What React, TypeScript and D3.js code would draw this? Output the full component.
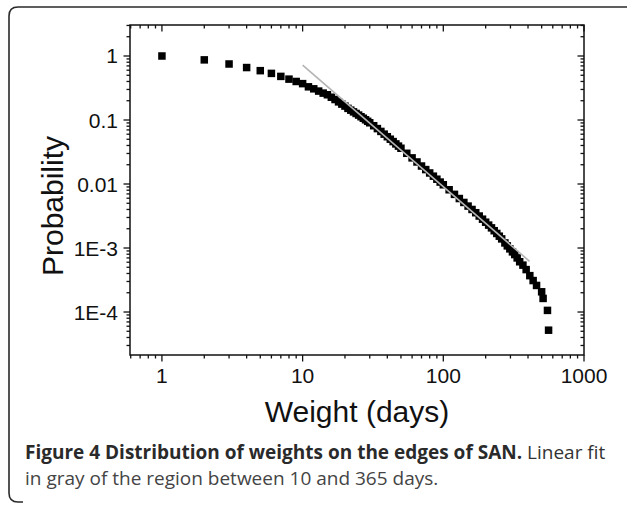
import React from "react";
import * as d3 from "d3";

// Weight (days) and the complementary cumulative probability
const weights = [
  1, 2, 3, 4, 5, 6, 7, 8, 9, 10, 11, 12, 13, 14, 15, 16, 17, 18, 19, 20,
  21, 22, 23, 24, 25, 26, 27, 28, 29, 30, 32, 34, 36, 38, 40, 42, 44, 46, 48, 50,
  55, 60, 65, 70, 75, 80, 85, 90, 95, 100, 110, 120, 130, 140, 150, 160, 170, 180, 190, 200,
  210, 220, 230, 240, 250, 260, 274, 285, 297, 310, 322, 335, 349, 368, 388, 412,
  435, 460, 500, 512, 550, 560,
];
const probabilities = [
  1.0, 0.87, 0.75, 0.66, 0.59, 0.535, 0.48, 0.435, 0.4, 0.37, 0.33, 0.307, 0.283, 0.263, 0.248, 0.227, 0.209, 0.192, 0.177, 0.165,
  0.152, 0.1425, 0.134, 0.1265, 0.1194, 0.1125, 0.1065, 0.1008, 0.0954, 0.0905, 0.0814, 0.0734, 0.0663, 0.0601, 0.0548, 0.0501, 0.046, 0.0423, 0.0391, 0.0362,
  0.0302, 0.0256, 0.0221, 0.0191, 0.0168, 0.01487, 0.01325, 0.01189, 0.01072, 0.00973, 0.00813, 0.00689, 0.00593, 0.00515, 0.00452, 0.004, 0.00356, 0.00316, 0.00282, 0.00253,
  0.00228, 0.002064, 0.001863, 0.001688, 0.00153, 0.001388, 0.0012, 0.00108, 0.00097, 0.00087, 0.00079, 0.0007, 0.00061, 0.00054, 0.00046, 0.00037,
  0.00031, 0.00026, 0.000207, 0.000163, 0.000106, 0.000052,
];

// Linear fit (gray) endpoints in log-log space
const fitWeights = [10, 410];
const fitProbabilities = [0.72, 0.00062];

const xTickValues = [1, 10, 100, 1000];
const xTickLabels = ["1", "10", "100", "1000"];
const yTickValues = [1, 0.1, 0.01, 0.001, 0.0001];
const yTickLabels = ["1", "0.1", "0.01", "1E-3", "1E-4"];

const xTitle = "Weight (days)";
const yTitle = "Probability";
const captionBold = "Figure 4 Distribution of weights on the edges of SAN.";
const captionRest1 = " Linear fit";
const captionLine2 = "in gray of the region between 10 and 365 days.";

const W = 627;
const H = 505;
const left = 130;
const right = 584;
const top = 25;
const bottom = 355;

export default function App() {
  const x = d3.scaleLog().domain([0.593, 1000]).range([left, right]);
  const y = d3.scaleLog().domain([2.13e-5, 3.05]).range([bottom, top]);

  const [x0, x1] = x.domain();
  const [y0, y1] = y.domain();

  const minorX: number[] = [];
  for (let e = -1; e <= 3; e++) {
    for (let m = 2; m <= 9; m++) {
      const v = m * Math.pow(10, e);
      if (v >= x0 && v <= x1 && !xTickValues.includes(v)) minorX.push(v);
    }
  }
  const minorY: number[] = [];
  for (let e = -5; e <= 0; e++) {
    for (let m = 2; m <= 9; m++) {
      const v = m * Math.pow(10, e);
      if (v >= y0 && v <= y1 * 1.001) minorY.push(v);
    }
  }

  const majorLen = 6.5;
  const minorLen = 3.5;
  const sq = 7.5;

  const line = d3
    .line<number>()
    .x((_, i) => x(fitWeights[i]))
    .y((d) => y(d));

  const r = 9;
  const boxL = 9;
  const boxT = 7;
  const boxB = 502;
  const boxPath = `M ${W + 5} ${boxT} L ${boxL + r} ${boxT} Q ${boxL} ${boxT} ${boxL} ${boxT + r} L ${boxL} ${boxB - r} Q ${boxL} ${boxB} ${boxL + r} ${boxB} L ${boxL + 14} ${boxB}`;

  const tickStroke = "#111";

  return (
    <svg width={W} height={H} style={{ position: "absolute", left: 0, top: 0, background: "#fff" }}>
      <rect x={0} y={0} width={W} height={H} fill="#fff" />
      <path d={boxPath} fill="none" stroke="#2a2a2a" strokeWidth={1.6} />

      {/* data squares */}
      <g fill="#000">
        {weights.map((w, i) => (
          <rect key={i} x={x(w) - sq / 2} y={y(probabilities[i]) - sq / 2} width={sq} height={sq} />
        ))}
      </g>

      {/* gray fit */}
      <path d={line(fitProbabilities) || ""} fill="none" stroke="#b4b4b4" strokeWidth={1.6} />

      {/* frame */}
      <rect x={left} y={top} width={right - left} height={bottom - top} fill="none" stroke={tickStroke} strokeWidth={1.5} />

      {/* ticks: bottom/left outward, top/right mirrored */}
      <g stroke={tickStroke} strokeWidth={1.3}>
        {xTickValues.map((v) => (
          <g key={"xm" + v}>
            <line x1={x(v)} x2={x(v)} y1={bottom} y2={bottom + majorLen} />
            <line x1={x(v)} x2={x(v)} y1={top} y2={top + majorLen} />
          </g>
        ))}
        {minorX.map((v) => (
          <g key={"xn" + v}>
            <line x1={x(v)} x2={x(v)} y1={bottom} y2={bottom + minorLen} />
            <line x1={x(v)} x2={x(v)} y1={top} y2={top + minorLen} />
          </g>
        ))}
        {yTickValues.map((v) => (
          <g key={"ym" + v}>
            <line x1={left - majorLen} x2={left} y1={y(v)} y2={y(v)} />
            <line x1={right - majorLen} x2={right} y1={y(v)} y2={y(v)} />
          </g>
        ))}
        {minorY.map((v) => (
          <g key={"yn" + v}>
            <line x1={left - minorLen} x2={left} y1={y(v)} y2={y(v)} />
            <line x1={right - minorLen} x2={right} y1={y(v)} y2={y(v)} />
          </g>
        ))}
      </g>

      {/* tick labels */}
      <g fontFamily="'Liberation Sans', Arial, sans-serif" fontSize={21} fill="#111">
        {xTickValues.map((v, i) => (
          <text key={"xl" + v} x={x(v)} y={bottom + 28} textAnchor="middle">
            {xTickLabels[i]}
          </text>
        ))}
        {yTickValues.map((v, i) => (
          <text key={"yl" + v} x={left - 12} y={y(v) + 7.5} textAnchor="end">
            {yTickLabels[i]}
          </text>
        ))}
      </g>

      {/* axis titles */}
      <text
        x={(left + right) / 2}
        y={422}
        textAnchor="middle"
        fontFamily="'Liberation Sans', Arial, sans-serif"
        fontSize={30}
        fill="#111"
      >
        {xTitle}
      </text>
      <text
        transform={`translate(63, ${(top + bottom) / 2 + 16}) rotate(-90)`}
        textAnchor="middle"
        fontFamily="'Liberation Sans', Arial, sans-serif"
        fontSize={30}
        fill="#111"
      >
        {yTitle}
      </text>

      {/* caption */}
      <text x={25} y={459} fontFamily="'Open Sans', 'Noto Sans', sans-serif" fontSize={19} fill="#333">
        <tspan fontWeight="bold" fill="#2a2a2a">{captionBold}</tspan>
        <tspan>{captionRest1}</tspan>
      </text>
      <text x={25} y={485} fontFamily="'Open Sans', 'Noto Sans', sans-serif" fontSize={19} fill="#444">
        {captionLine2}
      </text>
    </svg>
  );
}
